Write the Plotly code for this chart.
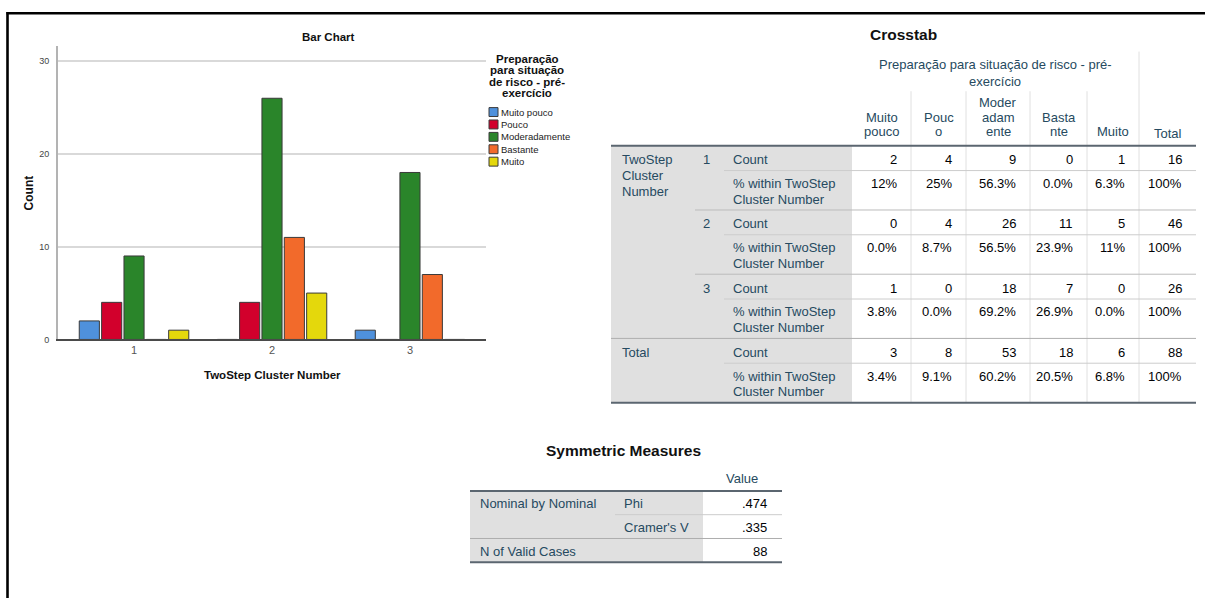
import plotly.graph_objects as go

W, H = 1205, 603
FONT = "Liberation Sans, Arial, sans-serif"

# ---------------- data ----------------
clusters = ["1", "2", "3"]
categories = ["Muito pouco", "Pouco", "Moderadamente", "Bastante", "Muito"]
muito_pouco = [2, 0, 1]
pouco = [4, 4, 0]
moderadamente = [9, 26, 18]
bastante = [0, 11, 7]
muito = [1, 5, 0]
row_totals = [16, 46, 26]
col_totals = [3, 8, 53, 18, 6]
grand_total = 88
pct_cluster1 = ["12%", "25%", "56.3%", "0.0%", "6.3%", "100%"]
pct_cluster2 = ["0.0%", "8.7%", "56.5%", "23.9%", "11%", "100%"]
pct_cluster3 = ["3.8%", "0.0%", "69.2%", "26.9%", "0.0%", "100%"]
pct_total = ["3.4%", "9.1%", "60.2%", "20.5%", "6.8%", "100%"]
col_header_lines = [["Muito", "pouco"], ["Pouc", "o"], ["Moder", "adam", "ente"],
                    ["Basta", "nte"], ["Muito"], ["Total"]]
legend_title_lines = ["Preparação", "para situação", "de risco - pré-", "exercício"]
super_header_lines = ["Preparação para situação de risco - pré-", "exercício"]
measure_groups = ["Nominal by Nominal", "", "N of Valid Cases"]
measure_names = ["Phi", "Cramer's V", ""]
measure_values = [".474", ".335", "88"]
y_ticks = [0, 10, 20, 30]

series = [muito_pouco, pouco, moderadamente, bastante, muito]
colors = ["#4f91dc", "#d2002c", "#2a852a", "#f26a2b", "#e4d80c"]

# ---------------- helpers (pixel -> paper) ----------------
def px(x):
    return x / W

def py(y):
    return 1 - y / H

annotations = []
shapes = []

def text(x, y, s, size=13, color="#264a60", anchor="left", bold=False):
    annotations.append(dict(
        x=px(x), y=py(y), xref="paper", yref="paper",
        text=f"<b>{s}</b>" if bold else s, showarrow=False,
        xanchor=anchor, yanchor="middle", borderpad=0,
        font=dict(size=size, color=color, family=FONT)))

def hline(x0, x1, y, color, width=1):
    shapes.append(dict(type="line", xref="paper", yref="paper",
                       x0=px(x0), x1=px(x1), y0=py(y), y1=py(y),
                       line=dict(color=color, width=width)))

def vline(x, y0, y1, color, width=1):
    shapes.append(dict(type="line", xref="paper", yref="paper",
                       x0=px(x), x1=px(x), y0=py(y0), y1=py(y1),
                       line=dict(color=color, width=width)))

def rect(x0, x1, y0, y1, fill):
    shapes.append(dict(type="rect", xref="paper", yref="paper",
                       x0=px(x0), x1=px(x1), y0=py(y1), y1=py(y0),
                       fillcolor=fill, line=dict(width=0), layer="below"))

# ---------------- bar chart ----------------
fig = go.Figure()
for name, vals, col in zip(categories, series, colors):
    fig.add_trace(go.Bar(name=name, x=clusters, y=vals,
                         marker=dict(color=col, line=dict(color="#3a3a3a", width=1)),
                         showlegend=False))

fig.update_layout(
    width=W, height=H, margin=dict(l=0, r=0, t=0, b=0),
    paper_bgcolor="white", plot_bgcolor="white",
    barmode="group", bargap=0.19, bargroupgap=0.1,
    font=dict(family=FONT),
    xaxis=dict(domain=[px(58), px(486)], type="category", range=[-0.551, 2.551],
               showline=True, linecolor="#4a4a4a", linewidth=1.5, ticks="",
               showgrid=False, tickfont=dict(size=11, color="#555555", family=FONT)),
    yaxis=dict(domain=[py(342.3), py(46.7)], range=[0, 31.6], tickvals=y_ticks,
               showgrid=True, gridcolor="#d9d9d9", gridwidth=1.5, zeroline=False,
               showline=True, linecolor="#b3b3b3", linewidth=2,
               ticks="outside", ticklen=5, tickcolor="rgba(0,0,0,0)",
               tickfont=dict(size=9, color="#444444", family=FONT)),
)

text(328, 37, "Bar Chart", size=11.5, color="#111111", anchor="center", bold=True)
text(272, 378, "TwoStep Cluster Number", size=11.5, color="#111111", anchor="center", bold=True)
annotations.append(dict(x=px(29), y=py(195), xref="paper", yref="paper",
                        text="<b>Count</b>", showarrow=False, textangle=-90,
                        xanchor="center", yanchor="middle",
                        font=dict(size=12, color="#111111", family=FONT)))

# manual legend
for i, line in enumerate(legend_title_lines):
    text(527, 59 + i * 11.7, line, size=11.5, color="#111111", anchor="center", bold=True)
for i, (name, col) in enumerate(zip(categories, colors)):
    yc = 113 + i * 12.5
    shapes.append(dict(type="rect", xref="paper", yref="paper",
                       x0=px(489), x1=px(498), y0=py(yc + 4.5), y1=py(yc - 4.5),
                       fillcolor=col, line=dict(color="#3a3a3a", width=1)))
    text(499.5, yc, name, size=9.5, color="#222222")

# ---------------- crosstab ----------------
cols = [852, 911, 966, 1030, 1087, 1139, 1196]
t_left = 611
head_y = 147
block_h = 64.75
count_h = 25
bottom_y = head_y + 4 * block_h
HEAD = "#264a60"
VAL = "#010205"

rect(t_left, cols[0], head_y, bottom_y, "#e0e0e0")
text(903, 35, "Crosstab", size=15.5, color="#111111", anchor="center", bold=True)
sx = (cols[0] + cols[5]) / 2
for i, line in enumerate(super_header_lines):
    text(sx, 65 + i * 17, line, size=13, color=HEAD, anchor="center")
for j, lines in enumerate(col_header_lines):
    cx = (cols[j] + cols[j + 1]) / 2
    n = len(lines)
    base = 135 if j == 5 else 133
    for k, line in enumerate(lines):
        text(cx, base - (n - 1 - k) * 15, line, size=13, color=HEAD, anchor="center")

# vertical separators
for j in range(1, 5):
    vline(cols[j], 92, bottom_y, "#e0e0e0", 1)
vline(cols[5], 52, bottom_y, "#e0e0e0", 1)

block_labels = clusters + [""]
block_counts = [[muito_pouco[i], pouco[i], moderadamente[i], bastante[i], muito[i], row_totals[i]]
                for i in range(3)] + [col_totals + [grand_total]]
block_pcts = [pct_cluster1, pct_cluster2, pct_cluster3, pct_total]

for b in range(4):
    top = head_y + b * block_h
    if b in (1, 2):
        hline(695, cols[6], top, "#bcbcbc", 1)
    if b == 3:
        hline(t_left, cols[6], top, "#aeaeae", 1)
    hline(724, cols[6], top + count_h, "#cccccc", 1)
    if block_labels[b]:
        text(706, top + 14, block_labels[b], size=13, color=HEAD, anchor="center")
    text(732, top + 14, "Count", size=13, color=HEAD)
    text(732, top + 38, "% within TwoStep", size=13, color=HEAD)
    text(732, top + 54, "Cluster Number", size=13, color=HEAD)
    for j in range(6):
        rx = cols[j + 1] - 13
        text(rx, top + 14, str(block_counts[b][j]), size=13, color=VAL, anchor="right")
        text(rx, top + 38, block_pcts[b][j], size=13, color=VAL, anchor="right")

for i, line in enumerate(["TwoStep", "Cluster", "Number"]):
    text(621, head_y + 14 + i * 16, line, size=13, color=HEAD)
text(621, head_y + 3 * block_h + 14, "Total", size=13, color=HEAD)

hline(t_left, cols[6], head_y, "#5b6670", 2)
hline(t_left, cols[6], bottom_y, "#5b6670", 2)

# ---------------- symmetric measures ----------------
m_left, m_mid, m_split, m_right = 470, 615, 703, 782
m_head = 495
row_h = 24
rect(m_left, m_split, m_head, m_head + 3 * row_h, "#e0e0e0")
text(623, 454, "Symmetric Measures", size=15.5, color="#111111", anchor="center", bold=True)
text((m_split + m_right) / 2 - 1, 482, "Value", size=13, color=HEAD, anchor="center")
for r in range(3):
    yc = m_head + r * row_h + 13
    if measure_groups[r]:
        text(479, yc, measure_groups[r], size=13, color=HEAD)
    if measure_names[r]:
        text(623, yc, measure_names[r], size=13, color=HEAD)
    text(m_right - 14, yc, measure_values[r], size=13, color=VAL, anchor="right")
hline(m_mid, m_right, m_head + row_h, "#cccccc", 1)
hline(m_left, m_right, m_head + 2 * row_h, "#aeaeae", 1)
hline(m_left, m_right, m_head, "#5b6670", 2)
hline(m_left, m_right, m_head + 3 * row_h, "#5b6670", 2)

# ---------------- outer frame ----------------
hline(6.5, W, 13.3, "#000000", 2.6)
vline(7.5, 12, H, "#000000", 2.6)

fig.update_layout(annotations=annotations, shapes=shapes)
fig.write_html("out.html", config={"displayModeBar": False},
               post_script="document.body.style.margin='0';document.body.style.overflow='hidden';")
